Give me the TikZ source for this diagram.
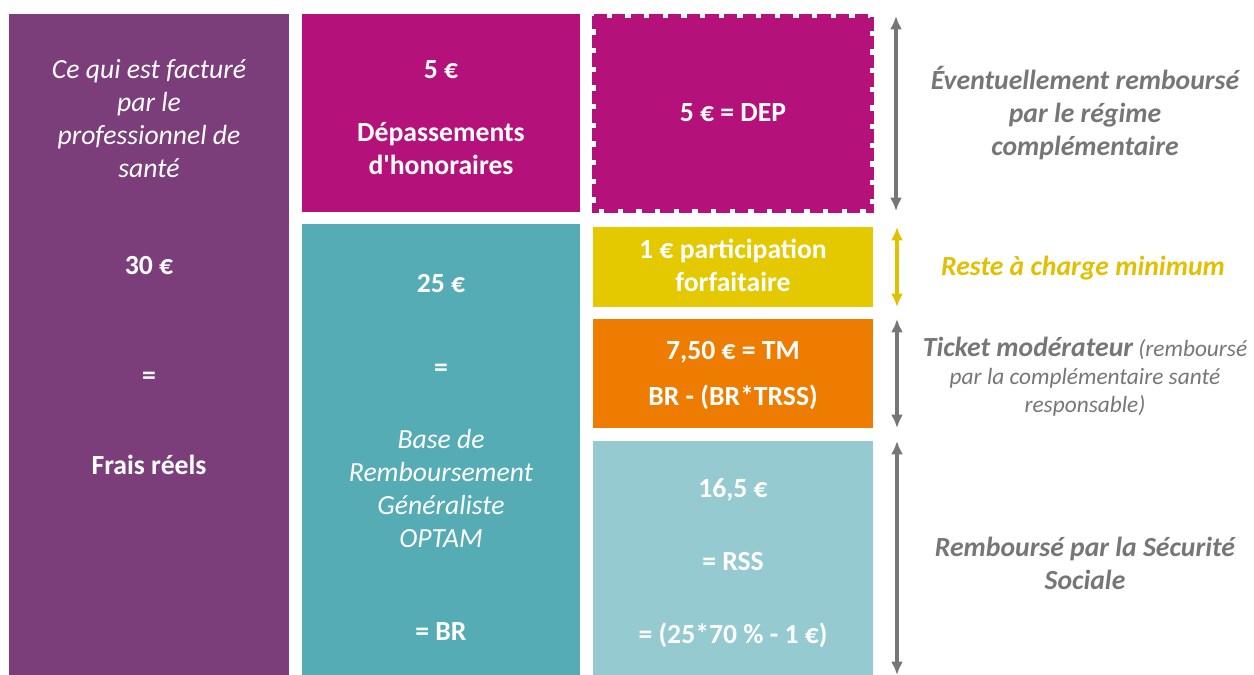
\documentclass[tikz,border=0pt]{standalone}
\usepackage{fontspec}
\setmainfont{Carlito}[Ligatures=TeXOff]
\usetikzlibrary{arrows.meta,fit}

\definecolor{facture}{HTML}{7B3E7A}
\definecolor{depass}{HTML}{B4117A}
\definecolor{baseremb}{HTML}{55ACB4}
\definecolor{partic}{HTML}{E4C800}
\definecolor{ticket}{HTML}{EE7C00}
\definecolor{secu}{HTML}{94CAD0}
\definecolor{grisfl}{HTML}{767676}
\definecolor{jaunetxt}{HTML}{E0C000}

\tikzset{every picture/.style={line width=0.75pt}}
\tikzset{
  bloc/.style={inner sep=0, outer sep=0},
  blanc/.style={text=white, align=center, font=\fontsize{20.75}{24.75}\selectfont},
  gras/.style={blanc, font=\fontsize{20.75}{24.75}\selectfont\bfseries},
  legende/.style={text=grisfl, align=center, font=\fontsize{20.75}{24.75}\selectfont\bfseries\itshape},
  fleche/.style={draw=grisfl, line width=2.6pt, {Latex[length=10pt,width=9pt]}-{Latex[length=10pt,width=9pt]}}
}

\begin{document}
\begin{tikzpicture}[x=0.75pt,y=0.75pt,yscale=-1,xscale=1]
    \useasboundingbox (0,0) rectangle (1254,675);
    %Blocks
    \node[bloc, fill=facture, fit={(9,14) (289,675)}] (frais) {};
    \node[bloc, fill=depass, fit={(302,14) (580,212)}] (depass) {};
    \node[bloc, fill=baseremb, fit={(302,224) (580,675)}] (base) {};
    \node[bloc, fill=depass, draw=white, line width=2.5pt, fit={(594,16) (872,211)}] (dep) {};
    \draw[depass, line width=2.5pt, dash pattern=on 10pt off 4pt] (dep.north west) rectangle (dep.south east);
    \node[bloc, fill=partic, fit={(593,227) (873,307)}] (forf) {};
    \node[bloc, fill=ticket, fit={(593,319) (873,428)}] (tm) {};
    \node[bloc, fill=secu, fit={(593,441) (873,675)}] (rss) {};
    %Texts left
    \node[blanc] (t_fact) at (149,119) {\itshape Ce qui est facturé\\\itshape par le\\\itshape professionnel de\\\itshape santé};
    \node[gras] (t_30) at (149,266) {30 €};
    \node[gras] (t_eq1) at (149,378) {=};
    \node[gras] (t_fr) at (149,465) {Frais réels};
    %Texts middle
    \node[gras] (t_5) at (441,70) {5 €};
    \node[gras] (t_dh) at (441,149) {Dépassements\\d'honoraires};
    \node[gras] (t_25) at (441,284) {25 €};
    \node[gras] (t_eq2) at (441,370) {=};
    \node[blanc, font=\fontsize{20.75}{24.75}\selectfont\itshape] (t_brg) at (441,488) {Base de\\Remboursement\\Généraliste\\OPTAM};
    \node[gras] (t_br) at (441,632) {= BR};
    %Texts right column
    \node[gras] (t_dep) at (733,113) {5 € = DEP};
    \node[gras] (t_pf) at (733,265) {1 € participation\\forfaitaire};
    \node[gras] (t_tm) at (733,352) {7,50 € = TM};
    \node[gras] (t_calc) at (733,397) {BR - (BR*TRSS)};
    \node[gras] (t_165) at (733,490) {16,5 €};
    \node[gras] (t_rss) at (733,562) {= RSS};
    \node[gras] (t_form) at (733,635) {= (25*70 \% - 1 €)};
    %Arrows
    \draw[fleche] ([xshift=18pt]dep.north east) -- ([xshift=18pt]dep.south east);
    \draw[fleche, draw=jaunetxt] ([xshift=18pt]forf.north east) -- ([xshift=18pt]forf.south east);
    \draw[fleche] ([xshift=18pt]tm.north east) -- ([xshift=18pt]tm.south east);
    \draw[fleche] ([xshift=18pt]rss.north east) -- ([xshift=18pt]rss.south east);
    %Legends
    \node[legende] (l_comp) at (1085,113) {Éventuellement remboursé\\par le régime\\complémentaire};
    \node[legende, text=jaunetxt] (l_rac) at (1083,268) {Reste à charge minimum};
    \node[legende, font=\fontsize{17.5}{21}\selectfont\itshape] (l_tm) at (1085,377) {{\fontsize{20.75}{21}\selectfont\bfseries Ticket modérateur} (remboursé\\par la complémentaire santé\\responsable)};
    \node[legende] (l_ss) at (1085,563) {Remboursé par la Sécurité\\Sociale};
\end{tikzpicture}
\end{document}
